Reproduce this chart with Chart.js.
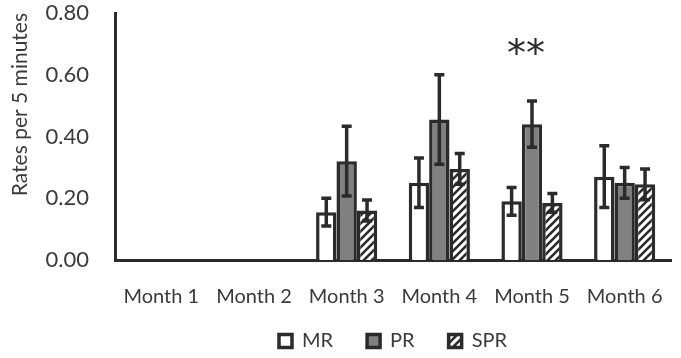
<!DOCTYPE html>
<html>
<head>
<meta charset="utf-8">
<script src="https://cdn.jsdelivr.net/npm/chart.js@4"></script>
<style>
  html, body { margin: 0; padding: 0; background: #fff; }
  #wrap { width: 681px; height: 358px; }
</style>
</head>
<body>
<div id="wrap"><canvas id="bar"></canvas></div>
<script>
let categories = ["Month 1", "Month 2", "Month 3", "Month 4", "Month 5", "Month 6"];
let mrValues = [null, null, 0.155, 0.25, 0.19, 0.27];
let prValues = [null, null, 0.32, 0.455, 0.44, 0.25];
let sprValues = [null, null, 0.16, 0.295, 0.185, 0.245];
let mrErr = [0, 0, 0.045, 0.08, 0.045, 0.10];
let prErr = [0, 0, 0.113, 0.145, 0.075, 0.05];
let sprErr = [0, 0, 0.034, 0.05, 0.03, 0.05];
let yTicks = [0, 0.2, 0.4, 0.6, 0.8];

let dark = "#2b2b2b";
let textColor = "#3a3a3a";
let fontFamily = "Lato, 'Open Sans', sans-serif";

// diagonal hatch for SPR
function hatch() {
    let c = document.createElement("canvas");
    c.width = 8; c.height = 8;
    let g = c.getContext("2d");
    g.fillStyle = "#fff";
    g.fillRect(0, 0, 8, 8);
    g.strokeStyle = dark;
    g.lineWidth = 2.6;
    g.beginPath();
    g.moveTo(-4, 4); g.lineTo(4, -4);
    g.moveTo(0, 8); g.lineTo(8, 0);
    g.moveTo(4, 12); g.lineTo(12, 4);
    g.stroke();
    return g.createPattern(c, "repeat");
}

let errors = [mrErr, prErr, sprErr];

let errorBars = {
    id: "errorBars",
    beforeDraw(chart) {
        // let the month labels run below the x box (legend sits close underneath)
        chart.scales.x._computeLabelArea = () => undefined;
    },
    afterDatasetsDraw(chart) {
        let ctx = chart.ctx;
        let y = chart.scales.y;
        ctx.save();
        ctx.strokeStyle = dark;
        ctx.lineWidth = 3.5;
        chart.data.datasets.forEach((ds, i) => {
            let meta = chart.getDatasetMeta(i);
            meta.data.forEach((el, j) => {
                let v = ds.data[j];
                if (v === null) return;
                let e = errors[i][j];
                let top = y.getPixelForValue(v + e);
                let bot = y.getPixelForValue(v - e);
                let x = el.x;
                ctx.beginPath();
                ctx.moveTo(x, top); ctx.lineTo(x, bot);
                ctx.moveTo(x - 5, top); ctx.lineTo(x + 5, top);
                ctx.moveTo(x - 5, bot); ctx.lineTo(x + 5, bot);
                ctx.stroke();
            });
        });
        // significance mark over Month 5 PR
        let el = chart.getDatasetMeta(1).data[4];
        ctx.fillStyle = dark;
        ctx.font = "38px 'DejaVu Sans', sans-serif";
        ctx.textAlign = "center";
        ctx.textBaseline = "middle";
        ctx.fillText("**", el.x - 6, y.getPixelForValue(0.66));
        ctx.restore();
    }
};

let barChart = new Chart(document.getElementById("bar").getContext("2d"), {
    type: "bar",
    data: {
        labels: categories,
        datasets: [
            { label: "MR", data: mrValues, backgroundColor: "#ffffff", borderColor: dark, borderWidth: 3.5 },
            { label: "PR", data: prValues, backgroundColor: "#808080", borderColor: dark, borderWidth: 3.5 },
            { label: "SPR", data: sprValues, backgroundColor: hatch(), borderColor: dark, borderWidth: 3.5 }
        ]
    },
    options: {
        responsive: true,
        maintainAspectRatio: false,
        animation: false,
        layout: { padding: { top: 13, right: 10, left: 4, bottom: 0 } },
        datasets: { bar: { barPercentage: 1.0, categoryPercentage: 0.66 } },
        plugins: {
            legend: {
                position: "bottom",
                fullSize: false,
                maxHeight: 61,
                labels: {
                    color: textColor,
                    font: { family: fontFamily, size: 20 },
                    boxWidth: 13,
                    boxHeight: 13,
                    padding: 34
                }
            },
            tooltip: { enabled: false }
        },
        scales: {
            x: {
                afterFit: (s) => { s.height = 37; s.paddingLeft = 0; s.paddingRight = 0; },
                grid: { display: false },
                border: { display: true, color: dark, width: 3 },
                ticks: { color: textColor, font: { family: fontFamily, size: 20 }, padding: 17 }
            },
            y: {
                min: 0,
                max: 0.8,
                afterBuildTicks: (s) => { s.ticks = yTicks.map(v => ({ value: v })); },
                afterFit: (s) => { s.width = 111; s.paddingTop = 0; s.paddingBottom = 0; },
                grid: { display: false },
                border: { display: true, color: dark, width: 3 },
                ticks: {
                    color: textColor,
                    font: { family: fontFamily, size: 22 },
                    padding: 18,
                    callback: (v) => Number(v).toFixed(2)
                },
                title: {
                    display: true,
                    text: "Rates per 5 minutes",
                    align: "end",
                    color: textColor,
                    font: { family: fontFamily, size: 21 }
                }
            }
        }
    },
    plugins: [errorBars]
});
</script>
</body>
</html>
